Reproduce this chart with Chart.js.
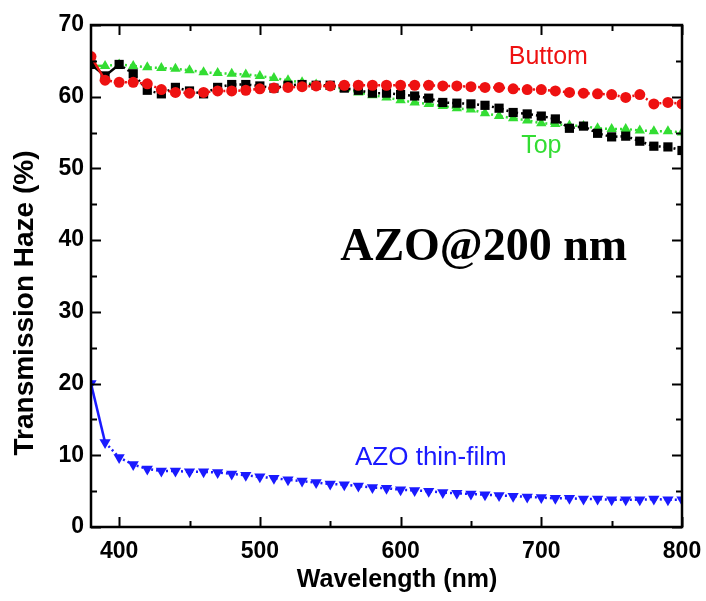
<!DOCTYPE html>
<html>
<head>
<meta charset="utf-8">
<script src="https://cdn.jsdelivr.net/npm/chart.js@4.4.1/dist/chart.umd.min.js"></script>
<style>
  html, body { margin: 0; padding: 0; background: #fff; }
  canvas { display: block; }
</style>
</head>
<body>
<canvas id="haze" width="706" height="601"></canvas>
<script>
// wavelength grid (nm), one point every 10 nm
const wavelengths = [380, 390, 400, 410, 420, 430, 440, 450, 460, 470, 480, 490, 500, 510, 520, 530, 540, 550, 560, 570, 580,
    590, 600, 610, 620, 630, 640, 650, 660, 670, 680, 690, 700, 710, 720, 730, 740, 750, 760, 770, 780, 790, 800];

// transmission haze (%)
const bottomHaze = [65.6, 62.3, 62.0, 62.0, 61.8, 61.0, 60.6, 60.5, 60.6, 60.8, 60.8, 60.9, 61.1, 61.2, 61.3, 61.4, 61.5, 61.5, 61.6, 61.6, 61.6,
    61.6, 61.6, 61.6, 61.6, 61.5, 61.5, 61.4, 61.3, 61.3, 61.1, 61.0, 61.0, 60.8, 60.6, 60.5, 60.4, 60.3, 59.9, 60.3, 59.0, 59.2, 59.0];
const blackHaze = [64.5, 62.9, 64.5, 63.2, 60.9, 60.4, 61.3, 60.8, 60.4, 61.3, 61.7, 61.7, 61.5, 61.2, 61.6, 61.7, 61.6, 61.6, 61.2, 60.9, 60.5,
    60.5, 60.3, 60.1, 59.8, 59.2, 59.1, 59.0, 58.8, 58.4, 57.8, 57.6, 57.3, 56.9, 55.6, 55.9, 54.9, 54.4, 54.5, 53.8, 53.1, 53.0, 52.5];
const topHaze = [64.3, 64.3, 64.5, 64.3, 64.1, 64.0, 63.9, 63.7, 63.4, 63.3, 63.2, 63.1, 62.9, 62.6, 62.3, 62.0, 61.7, 61.4, 61.1, 60.6, 60.2,
    59.9, 59.5, 59.2, 59.0, 58.7, 58.4, 58.2, 57.7, 57.3, 57.0, 56.7, 56.3, 56.2, 56.0, 55.9, 55.6, 55.5, 55.5, 55.3, 55.2, 55.2, 55.0];
const thinFilmHaze = [20.0, 11.8, 9.7, 8.7, 8.1, 7.8, 7.8, 7.7, 7.7, 7.6, 7.4, 7.2, 7.0, 6.8, 6.6, 6.4, 6.2, 6.0, 5.9, 5.7, 5.5,
    5.4, 5.2, 5.1, 5.0, 4.8, 4.7, 4.6, 4.5, 4.4, 4.3, 4.2, 4.1, 4.0, 4.0, 3.9, 3.9, 3.8, 3.8, 3.8, 3.9, 3.8, 3.8];

// axis ticks
const xMajor = [400, 500, 600, 700, 800];
const xMinor = [450, 550, 650, 750];
const yMajor = [0, 10, 20, 30, 40, 50, 60, 70];
const yMinor = [5, 15, 25, 35, 45, 55, 65];

// in-plot labels, placed in data coordinates
const notes = [
    { text: 'Buttom', x: 705, y: 65.5, color: '#ee1111', font: '25px "Liberation Sans", Arial, sans-serif' },
    { text: 'Top', x: 700, y: 53.1, color: '#33dd33', font: '25px "Liberation Sans", Arial, sans-serif' },
    { text: 'AZO@200 nm', x: 659, y: 38.9, color: '#000', font: 'bold 46px "Liberation Serif", "Times New Roman", serif' },
    { text: 'AZO thin-film', x: 621.5, y: 9.6, color: '#1a1aff', font: '26px "Liberation Sans", Arial, sans-serif' }
];

const toPoints = (ys) => wavelengths.map((w, i) => ({ x: w, y: ys[i] }));
const dotted = (solidUntil) => ({
    borderDash: ctx => ctx.p0DataIndex < solidUntil ? [] : [2, 3]
});

const frame = {
    id: 'frame',
    afterDatasetsDraw(chart) {
        const { ctx, chartArea: a, scales } = chart;
        const xs = scales.x, ys = scales.y;
        ctx.save();
        ctx.strokeStyle = '#000';
        ctx.lineWidth = 2;
        ctx.beginPath();
        xMajor.concat(xMinor).forEach(v => {
            const len = xMajor.includes(v) ? 10 : 6;
            const px = Math.round(xs.getPixelForValue(v)) + 0.5;
            ctx.moveTo(px, a.bottom); ctx.lineTo(px, a.bottom - len);
            ctx.moveTo(px, a.top); ctx.lineTo(px, a.top + len);
        });
        yMajor.concat(yMinor).forEach(v => {
            const len = yMajor.includes(v) ? 10 : 6;
            const py = Math.round(ys.getPixelForValue(v)) + 0.5;
            ctx.moveTo(a.left, py); ctx.lineTo(a.left + len, py);
            ctx.moveTo(a.right, py); ctx.lineTo(a.right - len, py);
        });
        ctx.stroke();
        ctx.lineWidth = 2.5;
        ctx.strokeRect(a.left, a.top, a.right - a.left, a.bottom - a.top);

        ctx.textAlign = 'center';
        ctx.textBaseline = 'middle';
        notes.forEach(n => {
            ctx.fillStyle = n.color;
            ctx.font = n.font;
            ctx.fillText(n.text, xs.getPixelForValue(n.x), ys.getPixelForValue(n.y));
        });

        // axis titles
        ctx.fillStyle = '#000';
        ctx.font = 'bold 25px "Liberation Sans", Arial, sans-serif';
        ctx.fillText('Wavelength (nm)', xs.getPixelForValue(597.5), a.bottom + 53);
        ctx.translate(a.left - 66, (a.top + a.bottom) / 2 + 27);
        ctx.rotate(-Math.PI / 2);
        ctx.font = 'bold 28px "Liberation Sans", Arial, sans-serif';
        ctx.fillText('Transmission Haze (%)', 0, 0);
        ctx.restore();
    }
};

const tickFont = { family: '"Liberation Sans", Arial, sans-serif', size: 23, weight: 'bold' };

const ctx = document.getElementById('haze').getContext('2d');
const chart = new Chart(ctx, {
    type: 'scatter',
    data: {
        datasets: [
            {
                label: 'AZO thin-film',
                data: toPoints(thinFilmHaze),
                showLine: true,
                borderColor: '#1a1aff',
                backgroundColor: '#1a1aff',
                borderWidth: 2.5,
                pointStyle: 'triangle',
                rotation: 180,
                pointRadius: 6.5,
                pointBorderWidth: 0,
                segment: dotted(1),
                order: 0
            },
            {
                label: 'Buttom',
                data: toPoints(bottomHaze),
                showLine: true,
                borderColor: '#ee1111',
                backgroundColor: '#ee1111',
                borderWidth: 2.5,
                pointStyle: 'circle',
                pointRadius: 5.5,
                pointBorderWidth: 0,
                segment: dotted(1),
                order: 1
            },
            {
                label: 'Sample',
                data: toPoints(blackHaze),
                showLine: true,
                borderColor: '#000',
                backgroundColor: '#000',
                borderWidth: 2.5,
                pointStyle: 'rect',
                pointRadius: 6.5,
                pointBorderWidth: 0,
                segment: dotted(2),
                order: 2
            },
            {
                label: 'Top',
                data: toPoints(topHaze),
                showLine: true,
                borderColor: '#33dd33',
                backgroundColor: '#33dd33',
                borderWidth: 2.5,
                pointStyle: 'triangle',
                pointRadius: 6,
                pointBorderWidth: 0,
                segment: dotted(1),
                order: 3
            }
        ]
    },
    options: {
        responsive: false,
        animation: false,
        layout: {
            padding: { left: 0, right: 24, top: 25, bottom: 0 }
        },
        plugins: {
            legend: { display: false },
            tooltip: { enabled: false }
        },
        scales: {
            x: {
                type: 'linear',
                min: 380,
                max: 800,
                afterBuildTicks: scale => { scale.ticks = xMajor.map(v => ({ value: v })); },
                afterFit: scale => { scale.height = 74; scale.paddingRight = 0; scale.paddingLeft = 0; },
                grid: { display: false, drawTicks: false },
                border: { display: false },
                ticks: { color: '#000', font: tickFont, padding: 11, maxRotation: 0 }
            },
            y: {
                type: 'linear',
                min: 0,
                max: 70,
                afterBuildTicks: scale => { scale.ticks = yMajor.map(v => ({ value: v })); },
                afterFit: scale => { scale.width = 91; scale.paddingTop = 0; scale.paddingBottom = 0; },
                grid: { display: false, drawTicks: false },
                border: { display: false },
                ticks: { color: '#000', font: tickFont, padding: 7 }
            }
        }
    },
    plugins: [frame]
});
</script>
</body>
</html>
